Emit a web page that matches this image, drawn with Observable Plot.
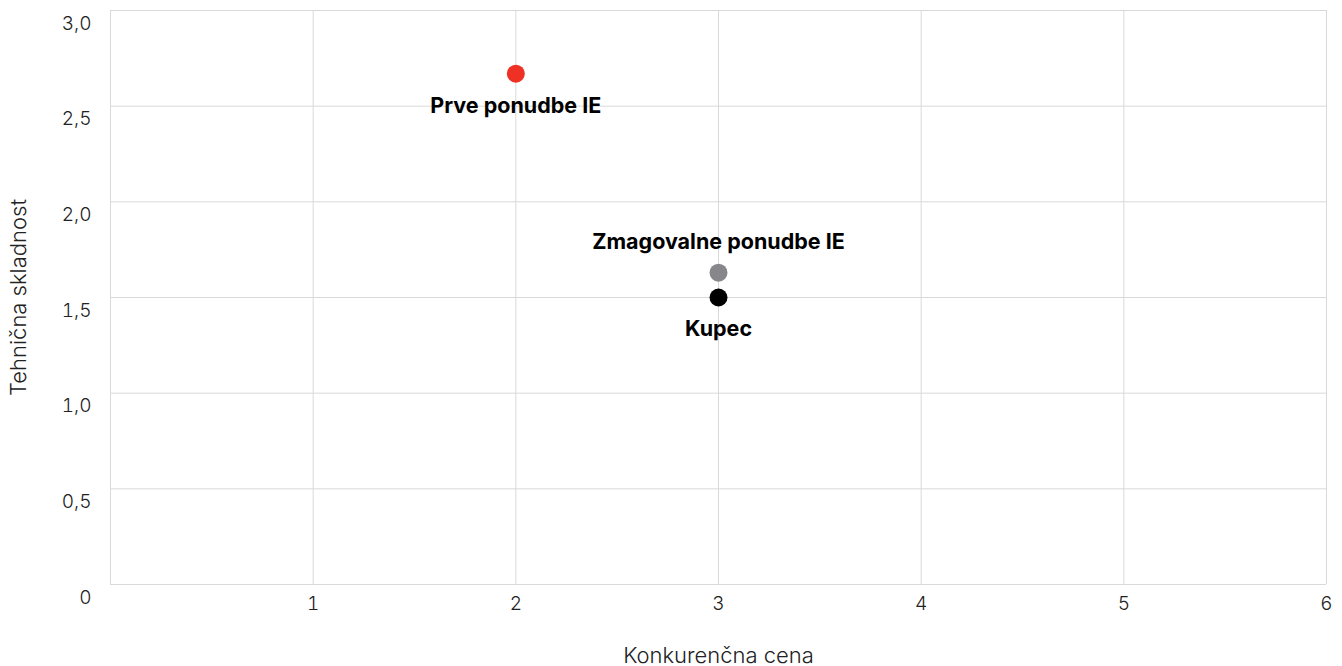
<!DOCTYPE html>
<html>
<head>
<meta charset="utf-8">
<script src="https://cdn.jsdelivr.net/npm/d3@7"></script>
<script src="https://cdn.jsdelivr.net/npm/@observablehq/plot@0.6"></script>
<style>
  html, body { margin: 0; padding: 0; background: #fff; }
</style>
</head>
<body>
<div id="chart"></div>
<script>
const names = ["Prve ponudbe IE", "Zmagovalne ponudbe IE", "Kupec"];
const priceValues = [2, 3, 3];
const complianceValues = [2.67, 1.63, 1.5];
const colors = ["#EE3124", "#87868A", "#000000"];
const labelSide = ["below", "above", "below"];
const xTicks = [1, 2, 3, 4, 5, 6];
const yTicks = [0, 0.5, 1, 1.5, 2, 2.5, 3];
const xTitle = "Konkurenčna cena";
const yTitle = "Tehnična skladnost";

const data = names.map((n, i) => ({
  name: n, x: priceValues[i], y: complianceValues[i], color: colors[i], side: labelSide[i]
}));

const fmtY = d => d === 0 ? "0" : d.toFixed(1).replace(".", ",");

const chart = Plot.plot({
  width: 1342,
  height: 666,
  marginLeft: 110,
  marginRight: 16,
  marginTop: 10,
  marginBottom: 82,
  style: { fontFamily: "Inter, 'Open Sans', sans-serif", fontSize: "18px", color: "#222", background: "#fff" },
  x: { domain: [0, 6] },
  y: { domain: [0, 3] },
  marks: [
    Plot.gridX([0, ...xTicks], { stroke: "#d9d9d9", strokeOpacity: 1, strokeWidth: 1 }),
    Plot.gridY(yTicks, { stroke: "#d9d9d9", strokeOpacity: 1, strokeWidth: 1 }),
    Plot.axisX(xTicks, {
      tickSize: 0, tickPadding: 12, tickFormat: d => String(d), fontSize: 19, fill: "#222", fontWeight: 300,
      label: null
    }),
    Plot.axisY(yTicks, {
      tickSize: 0, tickPadding: 19, dy: 13, tickFormat: fmtY, fontSize: 19, fill: "#222", fontWeight: 300,
      label: null
    }),
    Plot.text([xTitle], {
      frameAnchor: "bottom", dy: 78, text: d => d, fontSize: 22, fontWeight: 300, fill: "#222"
    }),
    Plot.text([yTitle], {
      frameAnchor: "left", textAnchor: "middle", dx: -92, rotate: -90, text: d => d, fontSize: 22, fontWeight: 300, fill: "#222"
    }),
    Plot.dot(data, { x: "x", y: "y", r: 9, fill: "color", stroke: null }),
    Plot.text(data.filter(d => d.side === "below"), {
      x: "x", y: "y", text: "name", dy: 32, fontSize: 21.5, fontWeight: 700, fill: "#000"
    }),
    Plot.text(data.filter(d => d.side === "above"), {
      x: "x", y: "y", text: "name", dy: -31, fontSize: 21.5, fontWeight: 700, fill: "#000"
    })
  ]
});
document.getElementById("chart").appendChild(chart);
</script>
</body>
</html>
